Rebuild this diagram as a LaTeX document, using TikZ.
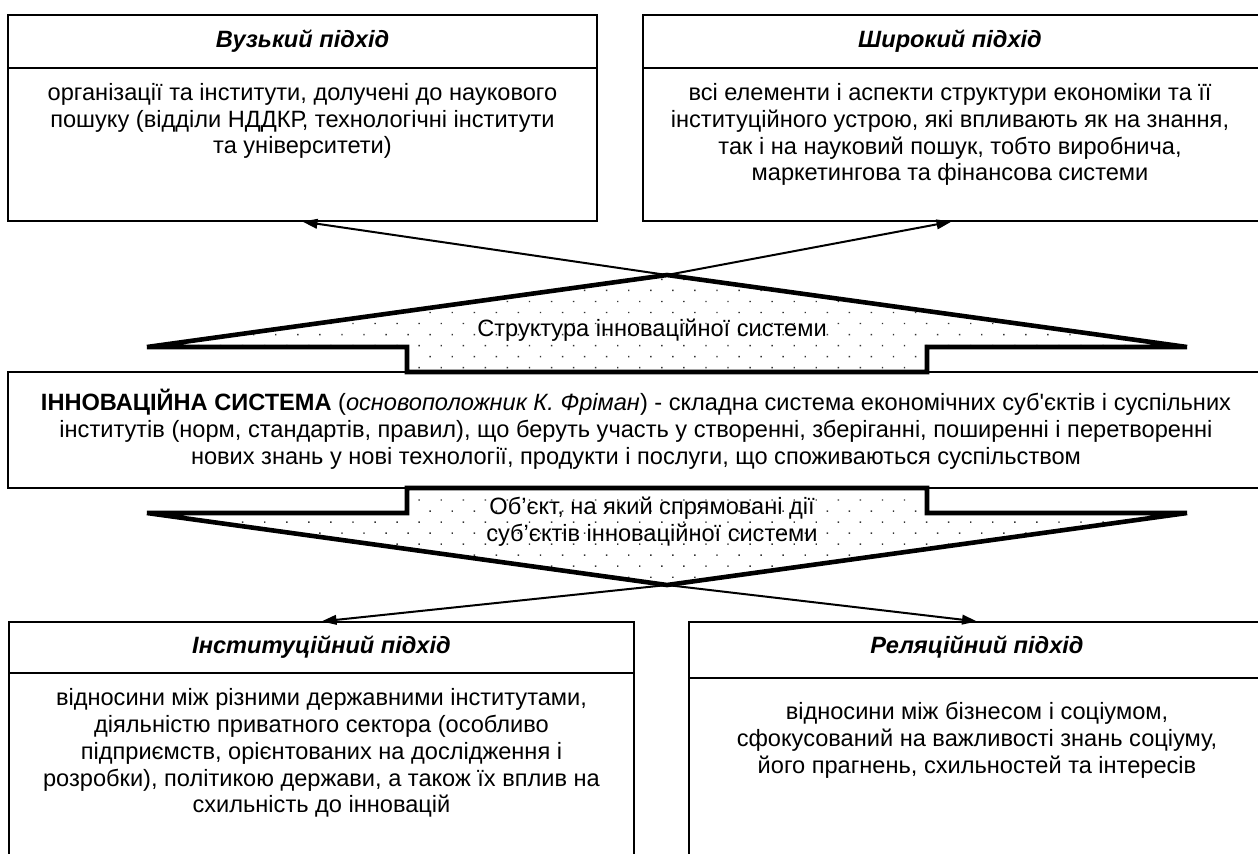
\documentclass[tikz,border=0pt]{standalone}
\usepackage{fontspec}
\newfontfamily\arialfont{Liberation Sans}
\usetikzlibrary{arrows.meta,patterns.meta}

\tikzset{
  panel/.style={draw,line width=0.6pt,inner sep=0pt},
  caption/.style={font=\arialfont\bfseries\itshape\fontsize{11.8}{13.4}\selectfont},
  body/.style={align=center,font=\arialfont\fontsize{11.8}{13.4}\selectfont},
  wedge/.style={line width=2.3pt,pattern={Dots[distance=7.8pt,radius=0.5pt,angle=45]},pattern color=black!80},
  link/.style={line width=1pt,-{Triangle[length=7.5pt,width=4.8pt]}}
}

\begin{document}
\begin{tikzpicture}[x=0.5pt,y=-0.5pt]
	\useasboundingbox (0,0) rectangle (1258,853);
	\clip (0,0) rectangle (1258,853);
	% approaches on top
	\node[panel,minimum width=294.5pt,minimum height=103pt] (narrow) at (302.5,118) {};
	\node[panel,minimum width=308.5pt,minimum height=103pt] (wide) at (951.5,118) {};
	\draw[line width=0.6pt] (8,68) -- (597,68);
	\draw[line width=0.6pt] (643,68) -- (1260,68);
	\node[caption] (narrowtitle) at (302.5,41) {Вузький підхід};
	\node[caption] (widetitle) at (950,41) {Широкий підхід};
	\node[body] (narrowtext) at (302.5,121) {організації та інститути, долучені до наукового\\пошуку (відділи НДДКР, технологічні інститути\\та університети)};
	\node[body] (widetext) at (950,134.5) {всі елементи і аспекти структури економіки та її\\інституційного устрою, які впливають як на знання,\\так і на науковий пошук, тобто виробнича,\\маркетингова та фінансова системи};
	% central definition
	\node[panel,minimum width=626pt,minimum height=58pt] (system) at (634,430) {};
	\node[body] (definition) at (636,429) {\textbf{ІННОВАЦІЙНА СИСТЕМА} (\textit{основоположник К. Фріман}) - складна система економічних суб'єктів і суспільних\\інститутів (норм, стандартів, правил), що беруть участь у створенні, зберіганні, поширенні і перетворенні\\нових знань у нові технології, продукти і послуги, що споживаються суспільством};
	% approaches at the bottom
	\node[panel,minimum width=312.5pt,minimum height=139pt] (institutional) at (321.5,761) {};
	\node[panel,minimum width=288pt,minimum height=139pt] (relational) at (977,761) {};
	\draw[line width=0.6pt] (9,673) -- (634,673);
	\draw[line width=0.6pt] (689,678) -- (1265,678);
	\node[caption] (institutionaltitle) at (321.5,647) {Інституційний підхід};
	\node[caption] (relationaltitle) at (977,647) {Реляційний підхід};
	\node[body] (institutionaltext) at (321.5,753) {відносини між різними державними інститутами,\\діяльністю приватного сектора (особливо\\підприємств, орієнтованих на дослідження і\\розробки), політикою держави, а також їх вплив на\\схильність до інновацій};
	\node[body] (relationaltext) at (977,740) {відносини між бізнесом і соціумом,\\сфокусований на важливості знань соціуму,\\його прагнень, схильностей та інтересів};
	% arrows
	\coordinate (apexup) at (667,275);
	\coordinate (apexdown) at (667,585);
	\draw[link] (apexup) -- (narrow.south);
	\draw[link] (apexup) -- (wide.south);
	\draw[link] (apexdown) -- (institutional.north);
	\draw[link] (apexdown) -- (relational.north);
	% dotted wedges
	\draw[wedge] (147,347) -- (apexup) -- (1187,347) -- (927,347) -- (927,372) -- (407,372) -- (407,347) -- cycle;
	\draw[wedge] (147,513) -- (407,513) -- (407,488) -- (927,488) -- (927,513) -- (1187,513) -- (apexdown) -- cycle;
	\node[body] (structure) at (652,330) {Структура інноваційної системи};
	\node[body] (object) at (652,522) {Об’єкт, на який спрямовані дії\\суб’єктів інноваційної системи};
\end{tikzpicture}
\end{document}
